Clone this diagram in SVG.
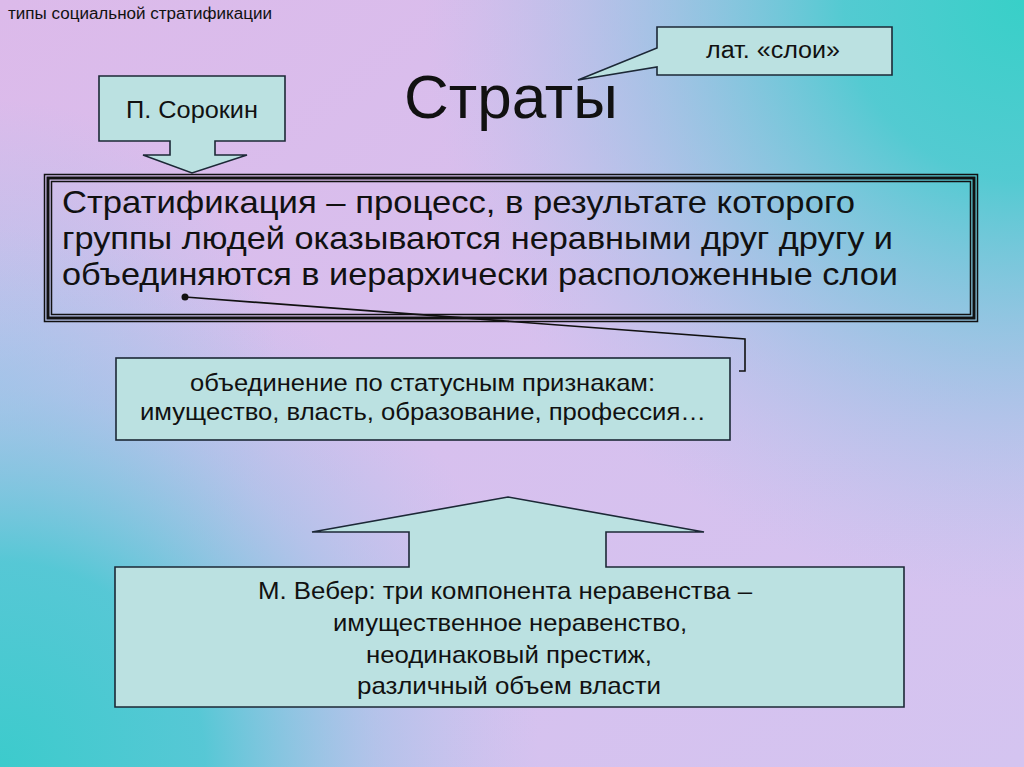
<svg xmlns="http://www.w3.org/2000/svg" width="1024" height="767" viewBox="0 0 1024 767">
<defs>
<linearGradient id="base" x1="0" y1="0" x2="1" y2="1">
<stop offset="0" stop-color="#dcbaea"/>
<stop offset="0.5" stop-color="#d7c0ee"/>
<stop offset="1" stop-color="#d4c4f0"/>
</linearGradient>
<radialGradient id="tr" cx="1024" cy="0" r="600" gradientUnits="userSpaceOnUse">
<stop offset="0" stop-color="#38d0c8" stop-opacity="1"/>
<stop offset="0.3" stop-color="#4ccbd0" stop-opacity="0.95"/>
<stop offset="0.65" stop-color="#8cc4e2" stop-opacity="0.6"/>
<stop offset="1" stop-color="#b0c4ec" stop-opacity="0"/>
</radialGradient>
<radialGradient id="bl" cx="0" cy="767" r="540" gradientUnits="userSpaceOnUse">
<stop offset="0" stop-color="#3ccbcc" stop-opacity="1"/>
<stop offset="0.38" stop-color="#50c8d4" stop-opacity="0.95"/>
<stop offset="0.7" stop-color="#98c4e6" stop-opacity="0.55"/>
<stop offset="1" stop-color="#b4c4ec" stop-opacity="0"/>
</radialGradient>
<radialGradient id="lm" cx="0" cy="380" r="280" gradientUnits="userSpaceOnUse">
<stop offset="0" stop-color="#a4c6ea" stop-opacity="0.75"/>
<stop offset="1" stop-color="#a8c6ea" stop-opacity="0"/>
</radialGradient>
<style>
.box{fill:#bbe1e1;stroke:#1c2836;stroke-width:1.6}
.t{font-family:"Liberation Sans",Arial,sans-serif;fill:#111}
.ln{fill:none;stroke:#111}
</style>
</defs>
<rect width="1024" height="767" fill="url(#base)"/>
<rect width="1024" height="767" fill="url(#lm)"/>
<rect width="1024" height="767" fill="url(#tr)"/>
<rect width="1024" height="767" fill="url(#bl)"/>

<text class="t" x="8" y="19" font-size="16" textLength="264" lengthAdjust="spacingAndGlyphs">типы социальной стратификации</text>

<g id="title">
<text class="t" x="404" y="118" font-size="62">Страты</text>
</g>

<g id="lat">
<path class="box" d="M657,27 H892 V75 H657 V67 L578,80 L657,48 Z"/>
<text class="t" x="706" y="58" font-size="23" textLength="134" lengthAdjust="spacingAndGlyphs">лат. «слои»</text>
</g>

<g id="sorokin">
<path class="box" d="M99,76 H285 V141 H215 V155 H247 L192,173 L143,155 H170 V141 H99 Z"/>
<text class="t" x="126" y="118" font-size="23" textLength="132" lengthAdjust="spacingAndGlyphs">П. Сорокин</text>
</g>

<g id="definition">
<rect x="44.5" y="174.5" width="933" height="147" fill="none" stroke="#111" stroke-width="1.5"/>
<rect x="48" y="178" width="926" height="140" fill="none" stroke="#111" stroke-width="3"/>
<rect x="51.5" y="181.5" width="919" height="133" fill="none" stroke="#111" stroke-width="1.5"/>
<text class="t" font-size="32"><tspan x="62" y="213" textLength="793" lengthAdjust="spacingAndGlyphs">Стратификация – процесс, в результате которого</tspan><tspan x="62" y="249" textLength="831" lengthAdjust="spacingAndGlyphs">группы людей оказываются неравными друг другу и</tspan><tspan x="62" y="285" textLength="836" lengthAdjust="spacingAndGlyphs">объединяются в иерархически расположенные слои</tspan></text>
</g>

<g id="status">
<rect class="box" x="116" y="358" width="614" height="82"/>
<text class="t" font-size="24"><tspan x="190" y="391" textLength="465" lengthAdjust="spacingAndGlyphs">объединение по статусным признакам:</tspan><tspan x="140" y="420" textLength="566" lengthAdjust="spacingAndGlyphs">имущество, власть, образование, профессия…</tspan></text>
</g>

<g id="weber">
<path class="box" d="M409,567 V532 H312 L508,497 L704,532 H606 V567 H904 V707 H115 V567 Z"/>
<text class="t" font-size="24"><tspan x="258" y="599" textLength="494" lengthAdjust="spacingAndGlyphs">М. Вебер: три компонента неравенства –</tspan><tspan x="333" y="631" textLength="354" lengthAdjust="spacingAndGlyphs">имущественное неравенство,</tspan><tspan x="366" y="663" textLength="286" lengthAdjust="spacingAndGlyphs">неодинаковый престиж,</tspan><tspan x="357" y="694" textLength="304" lengthAdjust="spacingAndGlyphs">различный объем власти</tspan></text>
</g>

<g id="connectors">
<circle cx="185" cy="297" r="3.5" fill="#111"/>
<polyline class="ln" points="185,297 745,339 745,371 739,371" stroke-width="1.6"/>
</g>
</svg>
